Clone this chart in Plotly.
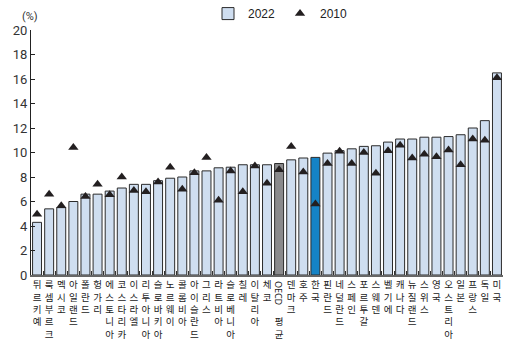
import plotly.graph_objects as go

# Countries, ordered by the 2022 value
countries = ["튀르키예", "룩셈부르크", "멕시코", "아일랜드", "폴란드", "헝가리", "에스토니아",
             "코스타리카", "이스라엘", "리투아니아", "슬로바키아", "노르웨이", "콜롬비아",
             "아이슬란드", "그리스", "라트비아", "슬로베니아", "칠레", "이탈리아", "체코",
             "OECD 평균", "덴마크", "호주", "한국", "핀란드", "네덜란드", "스페인", "포르투갈",
             "스웨덴", "벨기에", "캐나다", "뉴질랜드", "스위스", "영국", "오스트리아", "일본",
             "프랑스", "독일", "미국"]

# Share in 2022 (%)
v2022 = [4.3, 5.4, 5.5, 6.0, 6.6, 6.6, 6.85, 7.1, 7.4, 7.4, 7.7, 7.9, 8.0,
         8.5, 8.5, 8.75, 8.8, 9.0, 9.0, 9.0, 9.1, 9.4, 9.55, 9.6, 9.95, 10.15,
         10.3, 10.5, 10.55, 10.85, 11.1, 11.1, 11.25, 11.25, 11.3, 11.45, 12.0,
         12.6, 16.5]

# Share in 2010 (%)
v2010 = [4.95, 6.6, 5.65, 10.4, 6.4, 7.4, 6.55, 8.0, 6.9, 6.8, 7.6, 8.8, 7.0,
         8.35, 9.6, 6.1, 8.5, 6.8, 8.9, 7.5, 8.6, 10.5, 8.4, 5.8, 9.1, 10.1,
         9.1, 10.0, 8.3, 10.15, 10.6, 9.55, 9.85, 9.65, 10.2, 9.0, 11.1, 11.0,
         16.1]

y_ticks = list(range(0, 21, 2))

OECD = "OECD 평균"
KOREA = "한국"
oecd_latin, oecd_korean = OECD.split(" ")

# Vertical (stacked-character) category labels
def stack(name):
    if name == OECD:
        # the Latin part is drawn sideways by an annotation above the Korean part
        return "<br><br><br>" + "<br>".join(oecd_korean)
    return "<br>".join(ch for ch in name if ch != " ")

tick_text = [stack(c) for c in countries]

bar_colors = ["#8a8a8c" if c == OECD else "#1583c6" if c == KOREA else "#cfdef0"
              for c in countries]

fig = go.Figure()
fig.add_trace(go.Bar(
    x=countries, y=v2022, name="2022",
    marker=dict(color=bar_colors, line=dict(color="#2b2b2b", width=1)),
))
fig.add_trace(go.Scatter(
    x=countries, y=v2010, name="2010", mode="markers",
    marker=dict(symbol="triangle-up", size=9, color="#231f20"),
))

fig.add_annotation(
    x=OECD, y=0, xref="x", yref="paper", xanchor="center", yanchor="middle",
    yshift=-18, text=oecd_latin, textangle=90,
    showarrow=False, font=dict(size=9, color="#222", family="Noto Sans"),
)
fig.add_annotation(
    x=0, y=1.02, xref="paper", yref="paper", xanchor="center", yanchor="bottom",
    xshift=-1, text="(%)", showarrow=False,
    font=dict(size=11, color="#333", family="Liberation Sans Narrow, Roboto"),
)

fig.update_layout(
    width=505, height=343, autosize=False,
    margin=dict(l=31, r=2, t=30, b=68, pad=0, autoexpand=False),
    paper_bgcolor="white", plot_bgcolor="white",
    bargap=0.26,
    showlegend=True,
    legend=dict(orientation="h", x=0.375, y=1.067, xanchor="left", yanchor="middle",
                font=dict(size=12, color="#222", family="Liberation Sans, Arial"),
                itemwidth=30, tracegroupgap=0, bgcolor="rgba(0,0,0,0)"),
    font=dict(family="Noto Sans CJK KR", color="#222"),
)
fig.update_yaxes(
    range=[0, 20], tickvals=y_ticks, ticktext=[str(v) for v in y_ticks],
    showgrid=False, zeroline=False, automargin=False,
    showline=True, linecolor="#222", linewidth=1,
    ticks="inside", ticklen=4, tickcolor="#222",
    tickfont=dict(size=13, color="#333", family="Liberation Sans Narrow, Roboto"),
)
fig.update_xaxes(
    range=[-0.5, len(countries) - 0.5], domain=[0, 1],
    tickvals=countries, ticktext=tick_text, tickangle=0, automargin=False,
    showgrid=False, showline=True, linecolor="#666", linewidth=1.5,
    ticks="inside", tickson="boundaries", ticklen=4, tickcolor="#333",
    tickfont=dict(size=9.5, color="#222", family="Noto Sans CJK KR"),
)

fig.write_html("out.html")
